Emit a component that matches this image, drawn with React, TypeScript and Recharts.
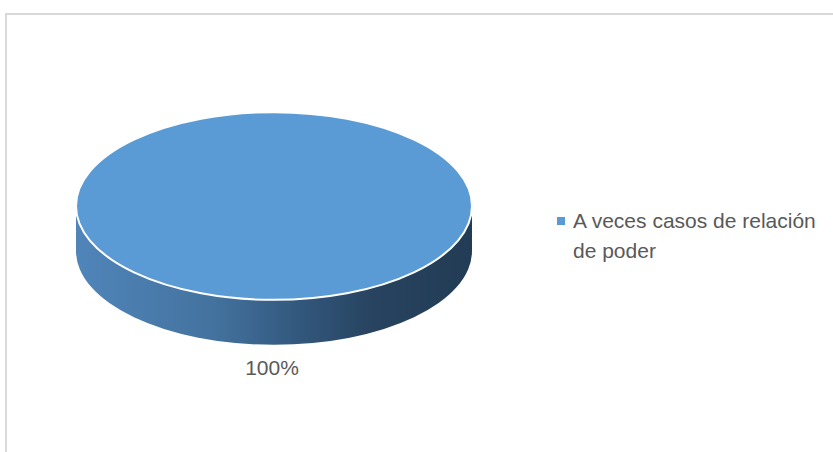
import React from "react";
import { PieChart, Pie, Legend } from "recharts";

const categories = ["A veces casos de relación de poder"];
const values = [100];
const labels = ["100%"];

const data = categories.map((name, i) => ({ name, value: values[i], label: labels[i] }));

const TOP = "#5b9bd5";
const TEXT = "#595959";
const FONT = "'Liberation Sans', Arial, sans-serif";
const TILT = 0.474;
const DEPTH = 0.227;

const Slice3D = (props: any) => {
  const { cx, cy, outerRadius } = props;
  const rx = outerRadius;
  const ry = outerRadius * TILT;
  const d = outerRadius * DEPTH;
  const side = `M ${cx - rx} ${cy} L ${cx - rx} ${cy + d} A ${rx} ${ry} 0 0 0 ${cx + rx} ${cy + d} L ${cx + rx} ${cy} A ${rx} ${ry} 0 0 1 ${cx - rx} ${cy} Z`;
  return (
    <g>
      <defs>
        <linearGradient id="sideGrad" x1="0" y1="0" x2="1" y2="0">
          <stop offset="0%" stopColor="#5085ba" />
          <stop offset="35%" stopColor="#43729e" />
          <stop offset="55%" stopColor="#33597f" />
          <stop offset="75%" stopColor="#27435f" />
          <stop offset="100%" stopColor="#233c55" />
        </linearGradient>
      </defs>
      <path d={side} fill="url(#sideGrad)" />
      <ellipse cx={cx} cy={cy} rx={rx} ry={ry} fill={TOP} stroke="#ffffff" strokeWidth={2} />
    </g>
  );
};

const renderLabel = (props: any) => {
  const { cx, cy, outerRadius, payload } = props;
  const y = cy + outerRadius * TILT + outerRadius * DEPTH + 23;
  return (
    <text x={cx - 2} y={y} textAnchor="middle" dominantBaseline="central" fill={TEXT} fontSize={21} fontFamily={FONT}>
      {payload.label}
    </text>
  );
};

const LegendContent = () => (
  <div style={{ display: "flex", alignItems: "flex-start", fontFamily: FONT, fontSize: 21, color: TEXT, lineHeight: "30px" }}>
    {categories.map((c) => (
      <React.Fragment key={c}>
        <div style={{ width: 8, height: 8, background: TOP, marginTop: 11, marginRight: 8, flexShrink: 0 }} />
        <div style={{ width: 258 }}>{c}</div>
      </React.Fragment>
    ))}
  </div>
);

export default function App() {
  return (
    <div style={{ position: "absolute", left: 0, top: 0, width: 833, height: 452, background: "#fff", overflow: "hidden" }}>
      <div style={{ position: "absolute", left: 5, top: 13, width: 900, height: 500, border: "2px solid #d9d9d9", boxSizing: "border-box" }} />
      <PieChart
        width={833}
        height={452}
        margin={{ top: 0, right: 0, bottom: 0, left: 0 }}
        style={{ position: "absolute", left: 0, top: 0 }}
      >
        <Pie
          data={data}
          dataKey="value"
          nameKey="name"
          cx={274}
          cy={206}
          outerRadius={198}
          startAngle={90}
          endAngle={-270}
          isAnimationActive={false}
          shape={Slice3D}
          label={renderLabel}
          labelLine={false}
          stroke="none"
        />
        <Legend
          content={<LegendContent />}
          wrapperStyle={{ position: "absolute", left: 557, top: 206, width: 280 }}
        />
      </PieChart>
    </div>
  );
}
